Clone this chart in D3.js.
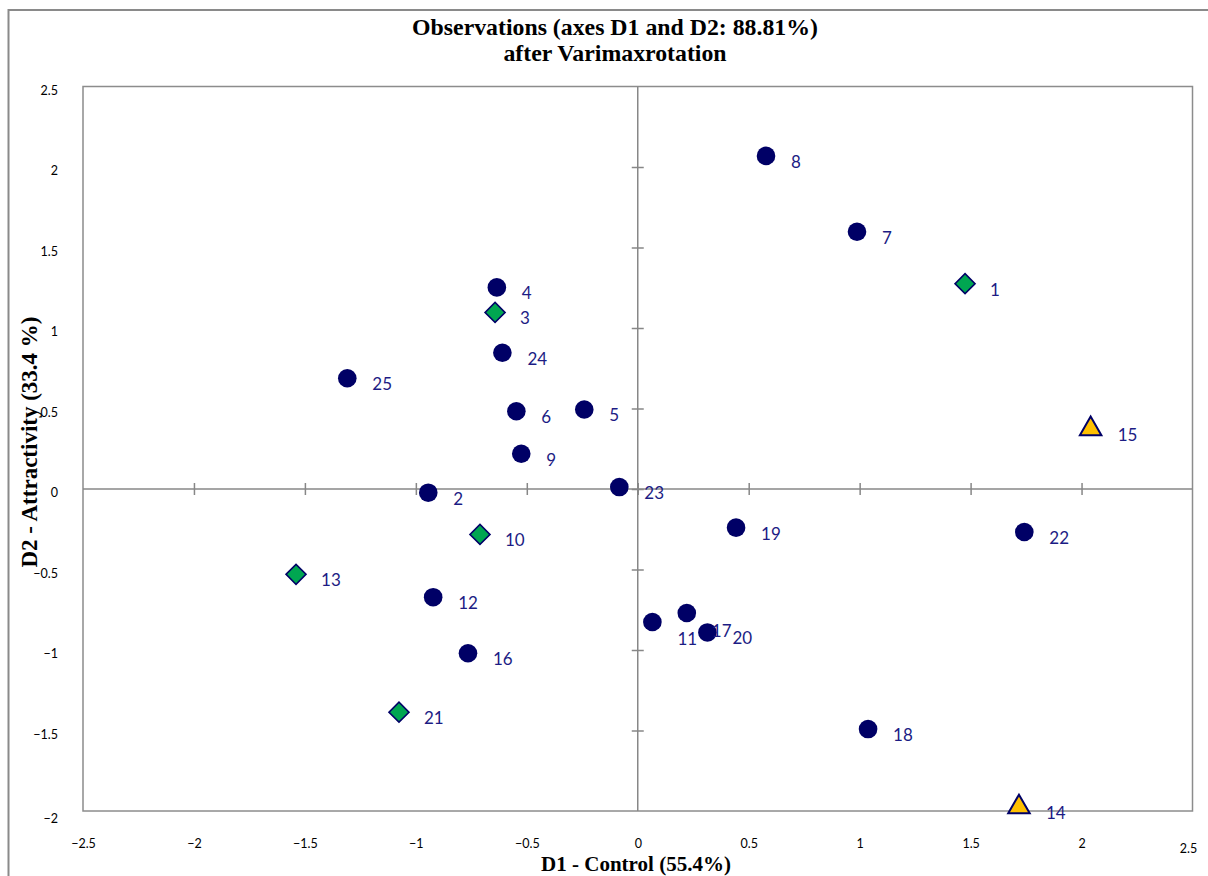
<!DOCTYPE html>
<html>
<head>
<meta charset="utf-8">
<script src="https://cdn.jsdelivr.net/npm/d3@7/dist/d3.min.js"></script>
<style>
  html, body { margin: 0; padding: 0; background: #ffffff; }
  svg { display: block; }
</style>
</head>
<body>
<svg id="chart" width="1208" height="876"></svg>
<script>
// ---------------- DATA ----------------
const pointIds = [1, 2, 3, 4, 5, 6, 7, 8, 9, 10, 11, 12, 13, 14, 15, 16, 17, 18, 19, 20, 21, 22, 23, 24, 25];
const d1Values = [1.475, -0.944, -0.643, -0.635, -0.241, -0.547, 0.988, 0.578, -0.525, -0.711,
                  0.066, -0.922, -1.540, 1.718, 2.041, -0.765, 0.221, 1.038, 0.443, 0.314,
                  -1.076, 1.742, -0.083, -0.610, -1.309];
const d2Values = [1.275, -0.023, 1.097, 1.252, 0.494, 0.483, 1.598, 2.069, 0.219, -0.282,
                  -0.826, -0.672, -0.530, -1.963, 0.385, -1.020, -0.770, -1.491, -0.240, -0.891,
                  -1.386, -0.267, 0.012, 0.846, 0.688];
const pointGroups = ["B", "A", "B", "A", "A", "A", "A", "A", "A", "B",
                     "A", "A", "B", "C", "C", "A", "A", "A", "A", "A",
                     "B", "A", "A", "A", "A"];
const xTickValues = [-2.5, -2, -1.5, -1, -0.5, 0, 0.5, 1, 1.5, 2, 2.5];
const yTickValues = [-2, -1.5, -1, -0.5, 0, 0.5, 1, 1.5, 2, 2.5];
const titleLines = ["Observations (axes D1 and D2: 88.81%)", "after Varimaxrotation"];
const xAxisTitle = "D1 - Control (55.4%)";
const yAxisTitle = "D2 - Attractivity (33.4 %)";

// ---------------- STYLES ----------------
const navy = "#000066";
const labelColor = "#1c1c84";
const groupStyle = {
  A: { shape: d3.symbolCircle, size: 272, fill: navy, stroke: navy, sw: 0 },
  B: { shape: d3.symbolSquare, size: 200, fill: "#00a651", stroke: navy, sw: 1.6 },
  C: { shape: d3.symbolTriangle, size: 200, fill: "#ffc000", stroke: navy, sw: 2 }
};
// label nudges for crowded labels (styling, not data)
const labelNudge = { 11: [0, 11], 17: [0, 12] };

const svg = d3.select("#chart");
const plot = { left: 83, right: 1192.5, top: 86.5, bottom: 811 };

const x = d3.scaleLinear().domain([-2.5, 2.5]).range([plot.left, plot.right]);
const y = d3.scaleLinear().domain([-2, 2.5]).range([plot.bottom, plot.top]);

const points = pointIds.map((id, i) => ({ id, d1: d1Values[i], d2: d2Values[i], g: pointGroups[i] }));

// outer frame
svg.append("rect")
  .attr("x", 8.5).attr("y", 10).attr("width", 1400).attr("height", 1000)
  .attr("fill", "none").attr("stroke", "#8a8a8a").attr("stroke-width", 2);

// plot area border
svg.append("rect")
  .attr("x", plot.left).attr("y", plot.top)
  .attr("width", plot.right - plot.left).attr("height", plot.bottom - plot.top)
  .attr("fill", "none").attr("stroke", "#8c8c8c").attr("stroke-width", 1.5);

// zero lines
const gray = "#878787";
svg.append("line")
  .attr("x1", plot.left).attr("x2", plot.right)
  .attr("y1", y(0)).attr("y2", y(0))
  .attr("stroke", gray).attr("stroke-width", 1.5);
svg.append("line")
  .attr("x1", x(0)).attr("x2", x(0))
  .attr("y1", plot.top).attr("y2", plot.bottom)
  .attr("stroke", gray).attr("stroke-width", 1.5);

// cross ticks on zero lines via d3 axes
const xZeroAxis = svg.append("g")
  .attr("transform", `translate(0,${y(0) + 6})`)
  .call(d3.axisTop(x).tickValues(xTickValues.filter(v => v > -2.5 && v < 2.5)).tickSize(12).tickFormat(""));
xZeroAxis.select(".domain").remove();
xZeroAxis.selectAll(".tick line").attr("stroke", gray).attr("stroke-width", 1.5);

const yZeroAxis = svg.append("g")
  .attr("transform", `translate(${x(0) + 6},0)`)
  .call(d3.axisLeft(y).tickValues(yTickValues.filter(v => v > -2 && v < 2.5)).tickSize(12).tickFormat(""));
yZeroAxis.select(".domain").remove();
yZeroAxis.selectAll(".tick line").attr("stroke", gray).attr("stroke-width", 1.5);

// tick labels - bottom (x)
const tickFont = "Lato, 'Open Sans', sans-serif";
const xLab = svg.append("g")
  .attr("transform", `translate(0,${plot.bottom})`)
  .call(d3.axisBottom(x).tickValues(xTickValues).tickSize(0).tickPadding(0).tickFormat(d3.format("")));
xLab.select(".domain").remove();
xLab.selectAll(".tick text")
  .attr("font-family", tickFont).attr("font-size", 12.5).attr("fill", "#000")
  .attr("dy", null)
  .attr("y", d => d === 2.5 ? 42 : 36.5);
xLab.selectAll(".tick").filter(d => d === 2.5).attr("transform", `translate(${x(2.5) - 4},0)`);

// tick labels - left (y)
const yLab = svg.append("g")
  .attr("transform", `translate(58,0)`)
  .call(d3.axisLeft(y).tickValues(yTickValues).tickSize(0).tickPadding(0).tickFormat(d3.format("")));
yLab.select(".domain").remove();
yLab.selectAll(".tick text")
  .attr("font-family", tickFont).attr("font-size", 12.5).attr("fill", "#000")
  .attr("text-anchor", "end").attr("x", 0)
  .attr("dy", null).attr("y", d => d === -2 ? 11 : 7.5);

// titles
const serif = "'Liberation Serif', 'Times New Roman', serif";
svg.append("text")
  .attr("x", 615).attr("y", 35)
  .attr("text-anchor", "middle").attr("font-family", serif)
  .attr("font-weight", "bold").attr("font-size", 23.8).text(titleLines[0]);
svg.append("text")
  .attr("x", 615).attr("y", 61)
  .attr("text-anchor", "middle").attr("font-family", serif)
  .attr("font-weight", "bold").attr("font-size", 23.8).text(titleLines[1]);

svg.append("text")
  .attr("x", 636).attr("y", 871)
  .attr("text-anchor", "middle").attr("font-family", serif)
  .attr("font-weight", "bold").attr("font-size", 21).text(xAxisTitle);

svg.append("text")
  .attr("transform", `translate(37,442) rotate(-90)`)
  .attr("text-anchor", "middle").attr("font-family", serif)
  .attr("font-weight", "bold").attr("font-size", 23).text(yAxisTitle);

// markers
const markerG = svg.append("g");
markerG.selectAll("path.pt")
  .data(points)
  .join("path")
  .attr("class", "pt")
  .attr("d", d => d3.symbol().type(groupStyle[d.g].shape).size(groupStyle[d.g].size)())
  .attr("transform", d => {
    let t = `translate(${x(d.d1)},${y(d.d2)})`;
    if (d.g === "B") t += " rotate(45)";
    if (d.g === "C") t += " translate(0,2)";
    return t;
  })
  .attr("fill", d => groupStyle[d.g].fill)
  .attr("stroke", d => groupStyle[d.g].stroke)
  .attr("stroke-width", d => groupStyle[d.g].sw)
  .attr("stroke-linejoin", "miter");

// point labels
svg.append("g").selectAll("text")
  .data(points)
  .join("text")
  .attr("x", d => x(d.d1) + 25 + (labelNudge[d.id] ? labelNudge[d.id][0] : 0) + (d.g === "C" ? 2 : 0))
  .attr("y", d => y(d.d2) + 12 + (labelNudge[d.id] ? labelNudge[d.id][1] : 0) + (d.g === "C" ? 2 : 0))
  .attr("font-family", "Lato, 'Open Sans', sans-serif")
  .attr("font-size", 17)
  .attr("fill", labelColor)
  .text(d => d.id);
</script>
</body>
</html>
